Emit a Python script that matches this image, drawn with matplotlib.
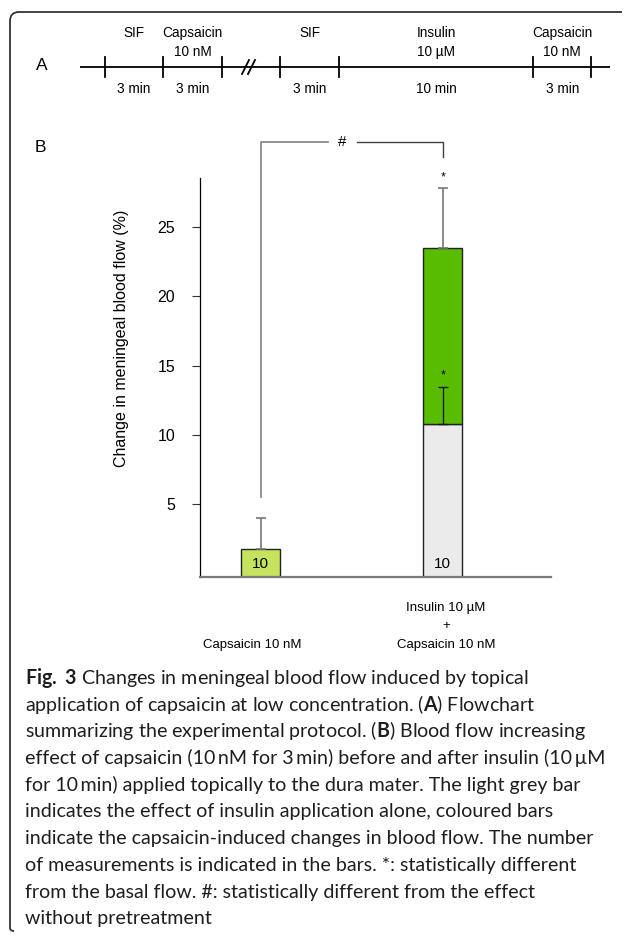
import matplotlib
matplotlib.use("Agg")
import matplotlib.pyplot as plt
from matplotlib.path import Path
from matplotlib.patches import PathPatch

W, H, DPI = 625, 936, 100

# ---------------- data ----------------
categories = ["Capsaicin 10 nM", "Insulin 10 µM\n+\nCapsaicin 10 nM"]
insulin_alone = [0.0, 10.79]          # light grey part (insulin alone)
insulin_err = [0.0, 2.68]
capsaicin_effect = [1.78, 12.65]      # coloured part (capsaicin-induced)
capsaicin_err = [2.25, 4.35]
n_meas = [10, 10]
yticks = [5, 10, 15, 20, 25]

# protocol timeline (panel A)
segment_top1 = ["SIF", "Capsaicin", "SIF", "Insulin", "Capsaicin"]
segment_top2 = ["", "10 nM", "", "10 µM", "10 nM"]
segment_bottom = ["3 min", "3 min", "3 min", "10 min", "3 min"]

caption_lines = [
    r"$\mathbf{Fig.}$ $\mathbf{3}$ Changes in meningeal blood flow induced by topical",
    r"application of capsaicin at low concentration. ($\mathbf{A}$) Flowchart",
    r"summarizing the experimental protocol. ($\mathbf{B}$) Blood flow increasing",
    "effect of capsaicin (10\u2009nM for 3\u2009min) before and after insulin (10\u2009µM",
    "for 10\u2009min) applied topically to the dura mater. The light grey bar",
    "indicates the effect of insulin application alone, coloured bars",
    "indicate the capsaicin-induced changes in blood flow. The number",
    "of measurements is indicated in the bars. *: statistically different",
    "from the basal flow. #: statistically different from the effect",
    "without pretreatment",
]

# ---------------- style ----------------
plt.rcParams["font.family"] = ["Liberation Sans", "DejaVu Sans"]
plt.rcParams["mathtext.fontset"] = "custom"
plt.rcParams["mathtext.bf"] = "Lato:bold"
plt.rcParams["mathtext.rm"] = "Lato"

col_light_green = "#c5e35c"
col_green = "#58bd00"
col_grey = "#ebebeb"

fig = plt.figure(figsize=(W / DPI, H / DPI), dpi=DPI)

# background pixel-coordinate axes for frame, timeline, caption
bg = fig.add_axes([0, 0, 1, 1])
bg.set_xlim(0, W)
bg.set_ylim(H, 0)
bg.axis("off")

# frame (left bracket-like rounded border)
r = 9
left, top, bottom, right = 10, 12, 931, 622
verts = [(right, top), (left + r, top), (left, top), (left, top + r),
         (left, bottom - 3), (left, bottom), (left + 4, bottom)]
codes = [Path.MOVETO, Path.LINETO, Path.CURVE3, Path.CURVE3,
         Path.LINETO, Path.CURVE3, Path.CURVE3]
bg.add_patch(PathPatch(Path(verts, codes), fill=False, ec="#333333", lw=1.3))

# ---------------- panel A ----------------
tick_x = [104.8, 163.2, 221.6, 280, 339.2, 533.2, 591.2]
line_y = 67
bg.plot([80, 610], [line_y, line_y], color="black", lw=1.3, solid_capstyle="butt")
for tx in tick_x:
    bg.plot([tx, tx], [57, 77], color="black", lw=1.3)
for dx in (0, 6):
    bg.plot([242 + dx, 249 + dx], [74, 60], color="black", lw=1.3)
bg.text(42, 66, "A", fontsize=12.5, ha="center", va="center")

seg_pairs = [(0, 1), (1, 2), (3, 4), (4, 5), (5, 6)]
for (a, b), t1, t2, tb in zip(seg_pairs, segment_top1, segment_top2, segment_bottom):
    cx = (tick_x[a] + tick_x[b]) / 2
    bg.text(cx, 33, t1, fontsize=9.8, ha="center", va="center")
    if t2:
        bg.text(cx, 52, t2, fontsize=9.8, ha="center", va="center")
    bg.text(cx, 89, tb, fontsize=9.8, ha="center", va="center")

bg.text(40, 147, "B", fontsize=12.5, ha="center", va="center")

# ---------------- panel B bar chart ----------------
ax = fig.add_axes([200 / W, (H - 577) / H, (551 - 200) / W, (577 - 178) / H])
floor = -0.22
ax.set_ylim(floor, 28.5)
ax.set_xlim(-0.333, 1.594)
x = [0, 1]
bw = 0.214

for i in range(2):
    base = insulin_alone[i]
    if base > 0:
        ax.bar(x[i], base - floor, bottom=floor, width=bw, color=col_grey,
               edgecolor="#222222", lw=1.0, zorder=2)
    col = col_light_green if i == 0 else col_green
    b0 = base if base > 0 else floor
    top_val = base + capsaicin_effect[i]
    ax.bar(x[i], top_val - b0, bottom=b0, width=bw, color=col,
           edgecolor="#222222", lw=1.0, zorder=2)
    ax.errorbar(x[i], top_val, yerr=[[0], [capsaicin_err[i]]], fmt="none",
                ecolor="#777777", elinewidth=1.2, capsize=3.8, capthick=1.2, zorder=3)
    if insulin_err[i] > 0:
        ax.errorbar(x[i], base, yerr=[[0], [insulin_err[i]]], fmt="none",
                    ecolor="#1a1a1a", elinewidth=1.0, capsize=3.8, capthick=1.0, zorder=4)
    ax.text(x[i], 0.75, str(n_meas[i]), ha="center", va="center", fontsize=11, zorder=5)

# significance marks
ax.text(1, 28.55, "*", ha="center", va="center", fontsize=9, clip_on=False)
ax.text(1, 14.3, "*", ha="center", va="center", fontsize=9, zorder=5)
br_y = 31.08
ax.plot([0, 0, 0.37], [5.55, br_y, br_y], color="#808080", lw=1.2, clip_on=False)
ax.plot([0.528, 1.0, 1.0], [br_y, br_y, 30.04], color="#404040", lw=1.0, clip_on=False)
ax.text(0.45, br_y, "#", ha="center", va="center", fontsize=11, clip_on=False)

ax.set_yticks(yticks)
ax.set_yticklabels([str(t) for t in yticks], fontsize=11.5)
ax.tick_params(axis="y", length=5.8, width=0.8, pad=12, color="#333333")
ax.set_xticks([])
for s in ("top", "right"):
    ax.spines[s].set_visible(False)
ax.spines["left"].set_color("black")
ax.spines["left"].set_linewidth(0.9)
ax.spines["bottom"].set_color("#7a7a7a")
ax.spines["bottom"].set_linewidth(1.6)
ax.patch.set_alpha(0)

fig.text(121.7 / W, 1 - 338 / H, "Change in meningeal blood flow (%)", rotation=90,
         ha="center", va="center", fontsize=11.5)

# x category labels
lab_x = [252, 446]
fig.text(lab_x[0] / W, 1 - 645 / H, categories[0], ha="center", va="center", fontsize=9.5)
for j, line in enumerate(categories[1].split("\n")):
    fig.text(lab_x[1] / W, 1 - [607.7, 626.5, 645][j] / H, line, ha="center",
             va="center", fontsize=9.5)

# ---------------- caption ----------------
cap_family = ["Lato", "DejaVu Sans"]
fig.canvas.draw()
rend = fig.canvas.get_renderer()
probe = bg.text(0, 0, caption_lines[3], fontsize=12, family=cap_family)
wpx = probe.get_window_extent(rend).width
probe.remove()
cap_fs = 12 * 579.0 / wpx
for k, line in enumerate(caption_lines):
    bg.text(25, 684 + k * 26.7, line, fontsize=cap_fs, family=cap_family,
            ha="left", va="baseline", color="#1e1e1e")

fig.savefig("out.png", dpi=DPI)
